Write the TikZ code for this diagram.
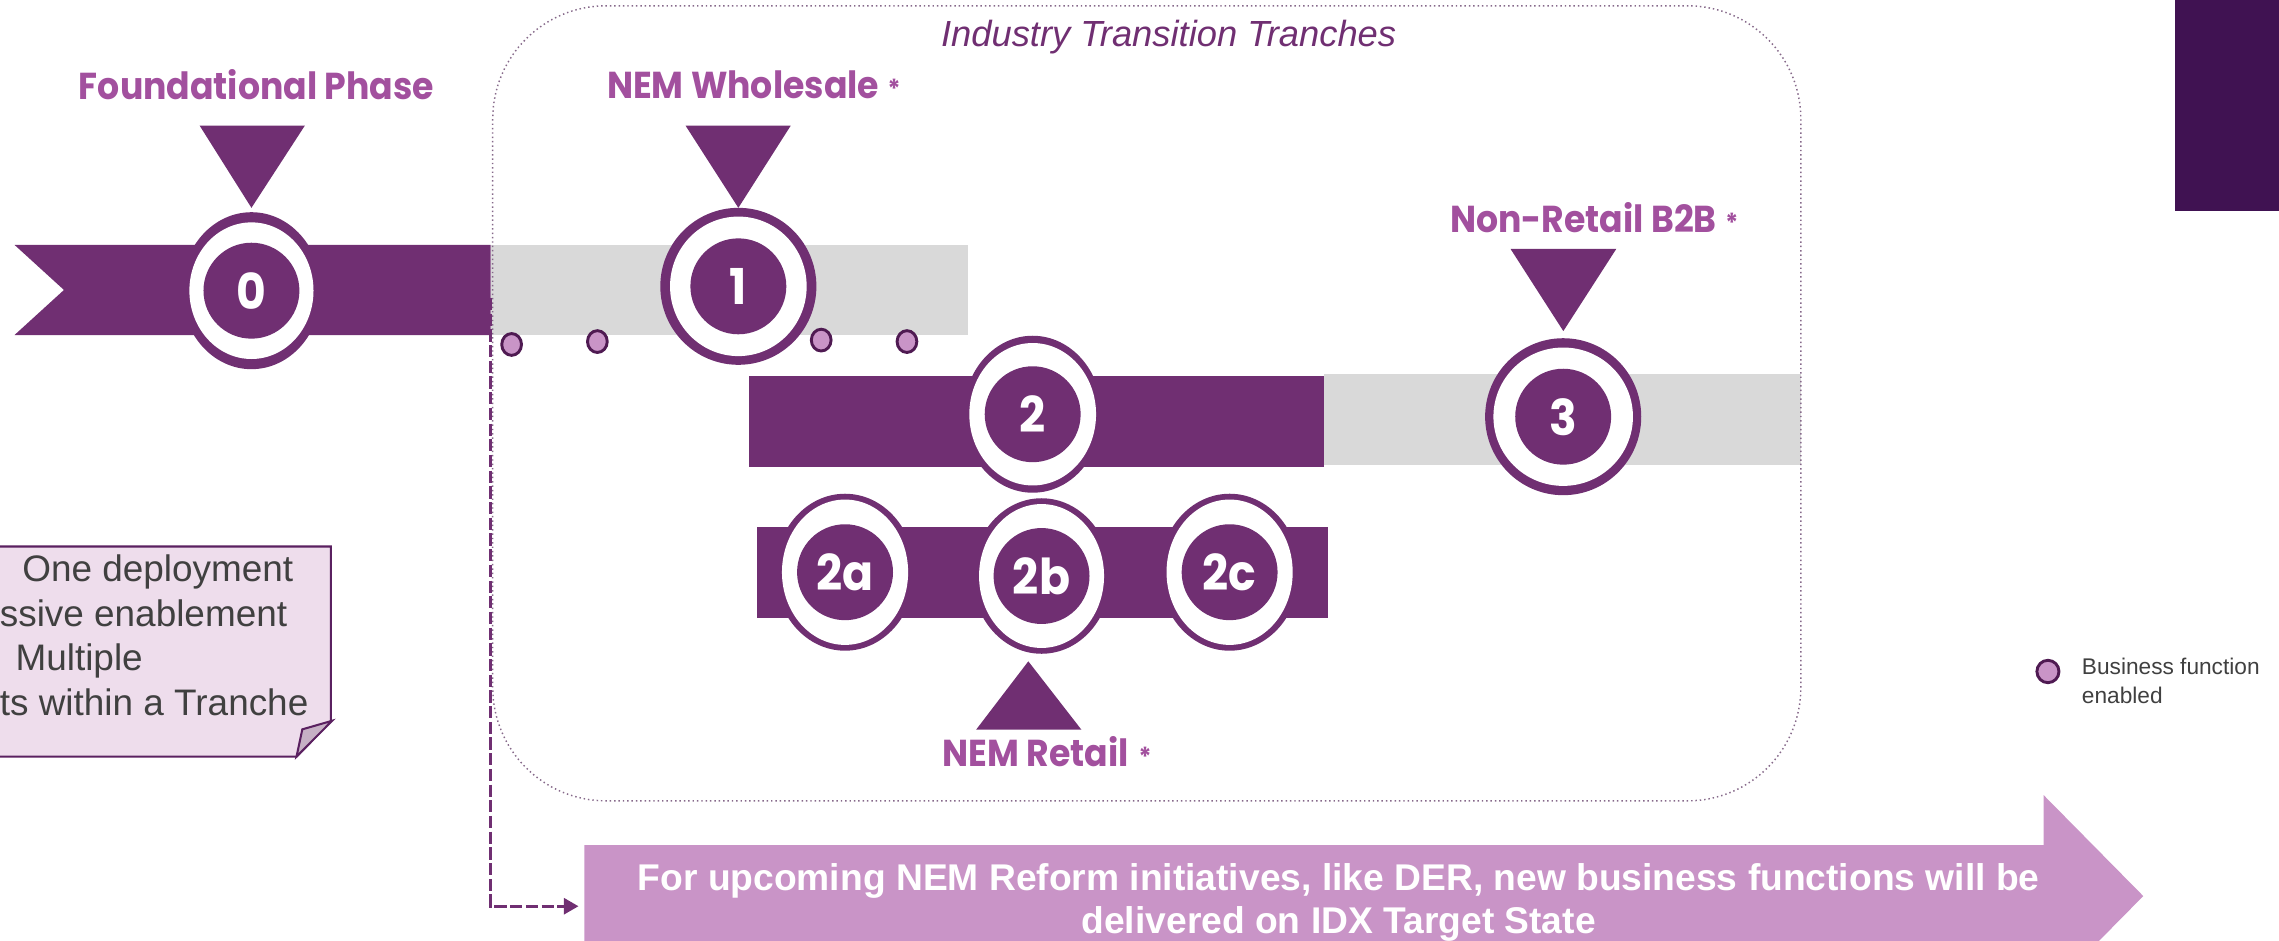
\documentclass[tikz,border=0pt]{standalone}
\usepackage{fontspec}
\setmainfont{Liberation Sans}
\newfontfamily\geo{Poppins}[FakeStretch=0.925]
\usetikzlibrary{shapes.geometric,arrows.meta}

\definecolor{rib}{HTML}{702F72}
\definecolor{lab}{HTML}{A2509E}
\definecolor{band}{HTML}{D9D9D9}
\definecolor{dotf}{HTML}{C994C7}
\definecolor{dotl}{HTML}{4F1A52}
\definecolor{notef}{HTML}{EEDDEC}
\definecolor{notel}{HTML}{5A2060}
\definecolor{flapf}{HTML}{C6B0C5}
\definecolor{cornerc}{HTML}{401252}
\definecolor{txt}{HTML}{404040}
\definecolor{framec}{HTML}{86698A}

\tikzset{
  medal/.style n args={2}{ellipse, fill=rib, inner sep=0pt, minimum width=#1, minimum height=#2},
  hole/.style n args={2}{ellipse, fill=white, inner sep=0pt, minimum width=#1, minimum height=#2},
  core/.style={circle, fill=rib, inner sep=0pt, minimum size=33pt, text=white,
    font=\geo\bfseries\fontsize{17}{17}\selectfont},
  bizdot/.style={ellipse, draw=dotl, line width=1pt, fill=dotf, inner sep=0pt,
    minimum width=6.8pt, minimum height=7.5pt},
  phase/.style={text=lab, font=\geo\bfseries\fontsize{12.9}{15}\selectfont, inner sep=0pt, anchor=base},
  starmark/.style={text=lab, font=\geo\bfseries\fontsize{9}{9}\selectfont, inner sep=0pt, anchor=base west},
  pointer/.style={fill=rib},
  notetext/.style={text=txt, font=\fontsize{12.7}{15}\selectfont, inner sep=0pt, anchor=base west},
  legendtext/.style={text=txt, font=\fontsize{7.8}{9.8}\selectfont, inner sep=0pt, anchor=base west},
  msgtext/.style={text=white, font=\bfseries\fontsize{12.8}{15}\selectfont, inner sep=0pt, anchor=base},
  tranchebox/.style={draw=framec, densely dotted, line width=0.5pt, rounded corners=39pt},
  flowlink/.style={draw=rib, line width=0.9pt, dash pattern=on 4.2pt off 1.2pt,
    -{Triangle[length=5pt,width=5.5pt]}, shorten >=2pt},
}

% medallion: name, x, y, outer rx, outer ry, hole rx, hole ry, number
\newcommand\tranchemedal[8]{%
  \node[medal={#4pt}{#5pt}] (#1) at (#2,#3) {};
  \node[hole={#6pt}{#7pt}] (#1w) at (#1) {};
  \node[core] (#1n) at (#1) {#8};
}

\begin{document}
\begin{tikzpicture}[x=0.5pt,y=-0.5pt]
\useasboundingbox (0,0) rectangle (1568,647);
\clip (0,0) rectangle (1568,647);

% tranche bands
\fill[rib] (10,168.5) -- (337.5,168.5) -- (337.5,230.5) -- (10,230.5) -- (44,199.5) -- cycle;
\fill[band] (337.5,168.5) rectangle (666,230.5);
\fill[rib] (515,259) rectangle (911,321);
\fill[band] (911,257) rectangle (1239,320);
\fill[rib] (521,362.6) rectangle (914,425);

% tranche frame and title
\draw[tranchebox] (339,4) rectangle (1239,551);
\node[text=rib, font=\itshape\fontsize{12.5}{15}\selectfont, inner sep=0pt, anchor=base]
  (ttitle) at (804,32) {Industry Transition Tranches};

% pointers
\fill[pointer] (137.4,86.5) -- (209.7,86.5) -- (173,143) -- cycle;
\fill[pointer] (471.7,86.5) -- (544,86.5) -- (508,143) -- cycle;
\fill[pointer] (1039.3,171.3) -- (1112,171.3) -- (1075.6,227.8) -- cycle;
\fill[pointer] (671.6,502) -- (744,502) -- (707.5,455) -- cycle;

% medallions
\tranchemedal{m0}{173}{200}{48}{54}{42.7}{47}{0}
\tranchemedal{m1}{508}{197}{53.7}{54}{47}{48}{1}
\tranchemedal{m2}{710.5}{285}{47.6}{54}{43.6}{49}{2}
\tranchemedal{m3}{1075.5}{286.7}{53.7}{54}{48}{47.6}{3}
\tranchemedal{m2a}{581.4}{393.7}{48}{54}{43.4}{50}{2a}
\tranchemedal{m2b}{716.6}{396.3}{47.6}{53.5}{43}{49.5}{2b}
\tranchemedal{m2c}{846}{393.7}{48}{54}{43.4}{50}{2c}

% business functions enabled
\node[bizdot] (d1) at (352,237) {};
\node[bizdot] (d2) at (411,235) {};
\node[bizdot] (d3) at (565,234) {};
\node[bizdot] (d4) at (624,235) {};

% phase labels
\node[phase] (lf) at (176.5,68.3) {Foundational Phase};
\node[phase] (lw) at (511.3,68) {NEM Wholesale};
\node[starmark] (sw) at ([xshift=2.5pt]lw.base east) {*};
\node[phase] (lb) at (1089.5,160) {Non-Retail B2B};
\node[starmark] (sb) at ([xshift=2.5pt]lb.base east) {*};
\node[phase] (lr) at (712.5,527.5) {NEM Retail};
\node[starmark] (sr) at ([xshift=3pt]lr.base east) {*};

% sticky note
\filldraw[fill=notef, draw=notel, line width=0.7pt]
  (-10,376) -- (227.7,376) -- (227.7,496) -- (204,520.6) -- (-10,520.6) -- cycle;
\filldraw[fill=flapf, draw=notel, line width=0.7pt]
  (204,520.6) -- (208,501.8) -- (228.5,495.9) -- cycle;
\node[notetext] (n1) at (15,400) {One deployment};
\node[notetext] (n2) at (-0.5,430.7) {ssive enablement};
\node[notetext] (n3) at (10.3,461.5) {Multiple};
\node[notetext] (n4) at (-0.5,492.6) {ts within a Tranche};

% legend
\node[bizdot, minimum width=7.6pt, minimum height=7.7pt] (ld) at (1409,462) {};
\node[legendtext] (lt1) at (1432,464) {Business function};
\node[legendtext] (lt2) at (1432,484) {enabled};

% corner block
\fill[cornerc] (1496.5,-2) rectangle (1570,145);

% target state arrow
\fill[dotf] (402,581.4) -- (1406,581.4) -- (1406,547) -- (1474.6,616.5) -- (1406,686)
  -- (1406,651.6) -- (402,651.6) -- cycle;
\node[msgtext] (msg1) at (921,612.4)
  {For upcoming NEM Reform initiatives, like DER, new business functions will be};
\node[msgtext] (msg2) at (921,642.6) {delivered on IDX Target State};

% link from the foundation to the target state
\coordinate (dstart) at (337.5,205);
\coordinate (arrtail) at (402,623.5);
\draw[flowlink] (dstart) |- (arrtail);
\end{tikzpicture}
\end{document}
